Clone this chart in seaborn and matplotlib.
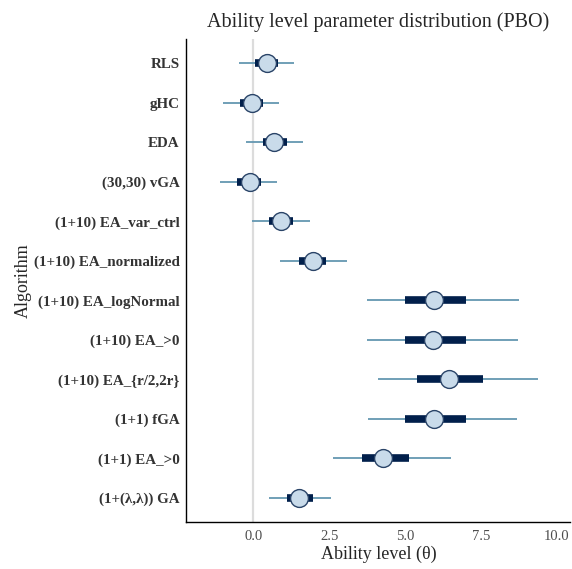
import matplotlib
matplotlib.use('Agg')
import matplotlib.pyplot as plt
import seaborn as sns
import pandas as pd

### Data (posterior intervals per algorithm)
algorithms = ['RLS', 'gHC', 'EDA', '(30,30) vGA', '(1+10) EA_var_ctrl',
              '(1+10) EA_normalized', '(1+10) EA_logNormal', '(1+10) EA_>0',
              '(1+10) EA_{r/2,2r}', '(1+1) fGA', '(1+1) EA_>0', '(1+(λ,λ)) GA']
median = [0.44, -0.05, 0.68, -0.13, 0.90, 1.95, 5.94, 5.92, 6.44, 5.94, 4.26, 1.51]
inner_lo = [0.06, -0.46, 0.31, -0.53, 0.52, 1.51, 5.01, 4.99, 5.41, 4.99, 3.59, 1.10]
inner_hi = [0.82, 0.31, 1.10, 0.24, 1.30, 2.39, 7.02, 7.00, 7.57, 7.02, 5.13, 1.95]
outer_lo = [-0.49, -0.99, -0.25, -1.10, -0.05, 0.86, 3.76, 3.76, 4.11, 3.79, 2.61, 0.50]
outer_hi = [1.34, 0.85, 1.62, 0.79, 1.86, 3.09, 8.75, 8.73, 9.38, 8.70, 6.52, 2.55]

df = pd.DataFrame({'algo': algorithms, 'm': median, 'll': outer_lo, 'l': inner_lo,
                   'h': inner_hi, 'hh': outer_hi})

sns.set_style('white')
plt.rcParams['font.family'] = ['Liberation Serif', 'DejaVu Serif']

fig = plt.figure(figsize=(5.72, 5.69), dpi=100)
ax = fig.add_axes([0.326, 0.083, 0.671, 0.848])

ax.axvline(0, color='#dcdcdc', lw=1.6, zorder=0)
# outer interval (thin), inner interval (thick), then median point
ax.hlines(df['algo'], df['ll'], df['hh'], color='#6497b1', lw=1.3, zorder=1)
ax.hlines(df['algo'], df['l'], df['h'], color='#011f4b', lw=5.5, zorder=2)
sns.scatterplot(data=df, x='m', y='algo', ax=ax, s=165, color='#c9dbea',
                edgecolor='#2a4468', linewidth=1.0, zorder=3, legend=False)

ax.set_ylim(len(algorithms) - 0.4, -0.6)
ax.set_xlim(-2.21, 10.45)
ax.set_xticks([0, 2.5, 5, 7.5, 10])
ax.set_xticklabels(['0.0', '2.5', '5.0', '7.5', '10.0'])

for s in ['top', 'right']:
    ax.spines[s].set_visible(False)
for s in ['left', 'bottom']:
    ax.spines[s].set_color('black')
    ax.spines[s].set_linewidth(1.0)

ax.tick_params(axis='y', length=3, width=1.6, color='#333333', pad=2,
               labelsize=10.8, labelcolor='#333333')
ax.tick_params(axis='x', length=3, width=0.6, color='#333333', pad=3,
               labelsize=10.5, labelcolor='#4d4d4d')
for lab in ax.get_yticklabels():
    lab.set_fontweight('bold')

ax.set_xlabel('Ability level (θ)', fontsize=13, labelpad=2)
ax.set_ylabel('Algorithm', fontsize=13, labelpad=1)
ax.set_title('Ability level parameter distribution (PBO)', fontsize=14.5, pad=9)

fig.savefig('out.png', dpi=100)
